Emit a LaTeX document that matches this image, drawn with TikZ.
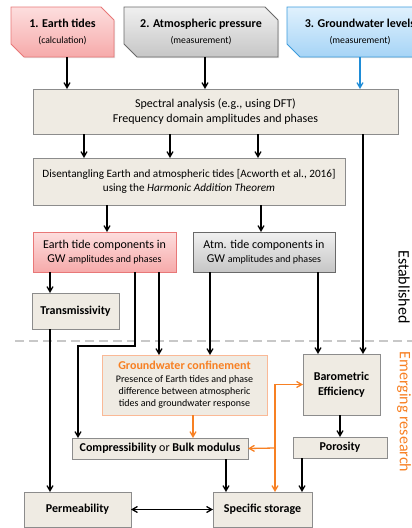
\documentclass[tikz,border=0pt]{standalone}
\usepackage{fontspec}
\setmainfont{Carlito}
\usetikzlibrary{calc}
\usetikzlibrary{arrows}
\usetikzlibrary{shadows,backgrounds}

\definecolor{boxbg}{RGB}{239,235,227}
\definecolor{boxline}{RGB}{140,140,140}
\definecolor{pinkA}{RGB}{253,222,222}
\definecolor{pinkB}{RGB}{246,170,170}
\definecolor{pinkline}{RGB}{232,120,120}
\definecolor{greyA}{RGB}{240,240,240}
\definecolor{greyB}{RGB}{198,198,198}
\definecolor{greyline}{RGB}{105,105,105}
\definecolor{blueA}{RGB}{224,241,253}
\definecolor{blueB}{RGB}{166,212,246}
\definecolor{blueline}{RGB}{60,155,220}
\definecolor{gwblue}{RGB}{30,140,215}
\definecolor{orng}{RGB}{247,128,35}
\definecolor{orngline}{RGB}{250,185,150}
\definecolor{dashgrey}{RGB}{200,200,200}

% snipped corner box behind a node: node, top colour, bottom colour, line colour
\newcommand{\snipbox}[4]{%
  \path[top color=#2, bottom color=#3, draw=#4, line width=.8pt,
        drop shadow={shadow xshift=1pt, shadow yshift=-1.2pt, opacity=.25}]
    (#1.north west) -- ([xshift=-13]#1.north east) -- ([yshift=-13]#1.north east)
    -- (#1.south east) -- ([xshift=13]#1.south west) -- ([yshift=13]#1.south west) -- cycle;}
\newcommand{\sub}{\fontsize{9.7}{11}\selectfont}
\newcommand{\ampl}{\fontsize{10}{12}\selectfont}

\begin{document}
\begin{tikzpicture}[x=1pt, y=-1pt, font=\fontsize{12}{14.5}\selectfont,
  box/.style={draw=boxline, fill=boxbg, line width=.8pt, inner sep=0pt, outer sep=0pt, align=center,
    drop shadow={shadow xshift=1pt, shadow yshift=-1.2pt, opacity=.25}},
  pinkbox/.style={box, top color=pinkA, bottom color=pinkB, draw=pinkline},
  greybox/.style={box, top color=greyA, bottom color=greyB, draw=greyline},
  snip/.style={inner sep=0pt, outer sep=0pt, align=center},
  arr/.style={->, >=angle 60, line width=1.3pt},
  oarr/.style={arr, color=orng}]
\useasboundingbox (0,0) rectangle (412,528);

% separation of established / emerging
\draw[dashgrey, line width=1.2pt, dash pattern=on 9pt off 5pt] (15,341) -- (412,341);

% inputs
\node[snip, minimum width=103, minimum height=50] (e1) at (62.5,32)
  {\textbf{1. Earth tides}\\[1pt]{\sub (calculation)}};
\node[snip, minimum width=154, minimum height=50] (e2) at (201,32)
  {\textbf{2. Atmospheric pressure}\\[1pt]{\sub (measurement)}};
\node[snip, minimum width=146, minimum height=50] (e3) at (360,32)
  {\textbf{3. Groundwater levels}\\[1pt]{\sub (measurement)}};
\begin{scope}[on background layer]
\snipbox{e1}{pinkA}{pinkB}{pinkline}
\snipbox{e2}{greyA}{greyB}{greyline}
\snipbox{e3}{blueA}{blueB}{blueline}
\end{scope}

% established methods
\node[box, minimum width=365, minimum height=45] (spec) at (215.5,111.5)
  {Spectral analysis (e.g., using DFT)\\Frequency domain amplitudes and phases};
\node[box, minimum width=312, minimum height=47, font=\fontsize{11.2}{13.5}\selectfont] (dis) at (189,181.5)
  {Disentangling Earth and atmospheric tides [Acworth et al., 2016]\\using the \textit{Harmonic Addition Theorem}};
\node[pinkbox, minimum width=143, minimum height=40] (etc) at (104.5,252)
  {Earth tide components in\\GW {\ampl amplitudes and phases}};
\node[greybox, minimum width=142, minimum height=40] (atc) at (264,252)
  {Atm. tide components in\\GW {\ampl amplitudes and phases}};
\node[box, minimum width=87, minimum height=36] (tra) at (75.5,311) {\textbf{Transmissivity}};

% emerging research
\node[box, draw=orngline, minimum width=165, minimum height=60, font=\fontsize{10}{12.3}\selectfont] (gwc) at (184.5,385)
  {{\fontsize{12}{14}\selectfont\textcolor{orng}{\textbf{Groundwater confinement}}}\\
   Presence of Earth tides and phase\\difference between atmospheric\\tides and groundwater response};
\node[box, minimum width=77, minimum height=61] (bar) at (341.5,384.5)
  {\textbf{Barometric}\\\textbf{Efficiency}};
\node[box, minimum width=176, minimum height=21] (com) at (160,448.5)
  {\textbf{Compressibility} or \textbf{Bulk modulus}};
\node[box, minimum width=94, minimum height=21] (por) at (340,447.5) {\textbf{Porosity}};
\node[box, minimum width=107, minimum height=35] (per) at (77.5,509.5) {\textbf{Permeability}};
\node[box, minimum width=99, minimum height=35] (sst) at (262.5,509.5) {\textbf{Specific storage}};

\node[rotate=-90, font=\fontsize{16}{18}\selectfont] (est) at (404,287) {Established};
\node[rotate=-90, font=\fontsize{16}{18}\selectfont, text=orng] (emr) at (404,412) {Emerging research};

% inputs to spectral analysis
\draw[arr] ([xshift=4.5]e1.south) -- ([xshift=4.5]e1.south |- spec.north);
\draw[arr] ([xshift=4]e2.south) -- ([xshift=4]e2.south |- spec.north);
\draw[arr, color=gwblue] (e3.south) -- (e3.south |- spec.north);

\foreach \dx in {51,137,225}
  \draw[arr] ([xshift=\dx]spec.south west) -- ([xshift=\dx]spec.south west |- dis.north);
\draw[arr] ([xshift=330]spec.south west) -- ([xshift=330]spec.south west |- bar.north);

\draw[arr] ([xshift=74]dis.south west) -- ([xshift=74]dis.south west |- etc.north);
\draw[arr] ([xshift=228]dis.south west) -- ([xshift=228]dis.south west |- atc.north);

\draw[arr] ([xshift=17]etc.south west) -- ([xshift=17]etc.south west |- tra.north);
\coordinate (kink) at (78,346);
\draw[arr] ([xshift=102]etc.south west) |- (kink) -- (kink |- com.north);
\draw[arr] ([xshift=126]etc.south west) -- ([xshift=126]etc.south west |- gwc.north);
\draw[arr] ([xshift=17]atc.south west) -- ([xshift=17]atc.south west |- gwc.north);
\draw[arr] ([xshift=125]atc.south west) -- ([xshift=125]atc.south west |- bar.north);

\draw[arr] ([xshift=18]tra.south west) -- ([xshift=18]tra.south west |- per.north);
\draw[oarr] ([xshift=91]gwc.south west) -- ([xshift=91]gwc.south west |- com.north);
\draw[arr] ([xshift=-1.5]bar.south) -- ([xshift=-1.5]bar.south |- por.north);
\draw[arr] ([xshift=154]com.south west) -- ([xshift=154]com.south west |- sst.north);
\draw[arr] ([xshift=9]por.south west) -- ([xshift=9]por.south west |- sst.north);
\draw[arr, <->] (per.east) -- (sst.west);

% storage links
\coordinate (oj) at (275,448);
\draw[oarr] (oj) |- (bar.west);
\draw[oarr] (oj) -- (com.east);
\draw[oarr] (oj) -- (oj |- sst.north);
\end{tikzpicture}
\end{document}
